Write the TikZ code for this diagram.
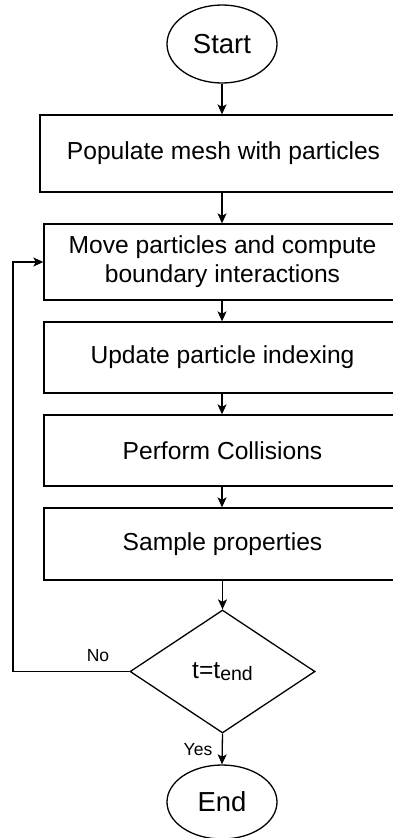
\documentclass[tikz,border=0pt]{standalone}
\usepackage{fontspec}
\setmainfont{Liberation Sans}
\usetikzlibrary{shapes.geometric,arrows.meta}
\begin{document}
\begin{tikzpicture}[x=1pt,y=-1pt,
  every node/.style={inner sep=0pt},
  procbox/.style={draw,rectangle,line width=1.3pt,font=\fontsize{24.6}{29}\selectfont,align=center},
  term/.style={draw,ellipse,line width=1.3pt,minimum width=110pt,font=\fontsize{27.5}{30}\selectfont},
  decide/.style={draw,diamond,line width=1.3pt,minimum width=185pt,minimum height=123pt,aspect=1.5,font=\fontsize{24.6}{29}\selectfont},
  flow/.style={line width=1.3pt,-{Stealth[length=10pt,width=9pt,inset=2.5pt]}},
  lbl/.style={font=\fontsize{17.5}{20}\selectfont}]
\useasboundingbox (0,0) rectangle (393,838);
\clip (0,0) rectangle (393,838);
\node[term,minimum height=78pt] (start) at (222,44) {Start};
\node[procbox,minimum width=367pt,minimum height=77pt] (b1) at (223.5,153.5) {Populate mesh with particles};
\node[procbox,minimum width=357pt,minimum height=76pt] (b2) at (222.5,262) {Move particles and compute\\boundary interactions};
\node[procbox,minimum width=357pt,minimum height=71pt] (b3) at (222.5,357.5) {Update particle indexing};
\node[procbox,minimum width=357pt,minimum height=71pt] (b4) at (222.5,450.5) {Perform Collisions};
\node[procbox,minimum width=357pt,minimum height=72pt] (b5) at (222.5,544) {Sample properties};
\node[decide] (d) at (222.5,671.5) {t=t\raisebox{-1.5pt}{\fontsize{19.5}{20}\selectfont end}};
\node[term,minimum height=74pt] (end) at (222,802) {End};
\coordinate (c1) at (13,671.5);
\coordinate (c2) at (13,262);
\draw[flow] (start.south) -- (start.south |- b1.north);
\draw[flow] (b1.south -| start.south) -- (start.south |- b2.north);
\draw[flow] (b2.south -| start.south) -- (start.south |- b3.north);
\draw[flow] (b3.south -| start.south) -- (start.south |- b4.north);
\draw[flow] (b4.south -| start.south) -- (start.south |- b5.north);
\draw[flow] (b5.south -| d.north) -- (d.north);
\draw[flow] (d.south) -- (end.north);
\draw[flow] (d.west) -- (c1) -- (c2) -- (b2.west);
\node[lbl] (no) at (98,656) {No};
\node[lbl] (yes) at (198,750) {Yes};
\end{tikzpicture}
\end{document}
